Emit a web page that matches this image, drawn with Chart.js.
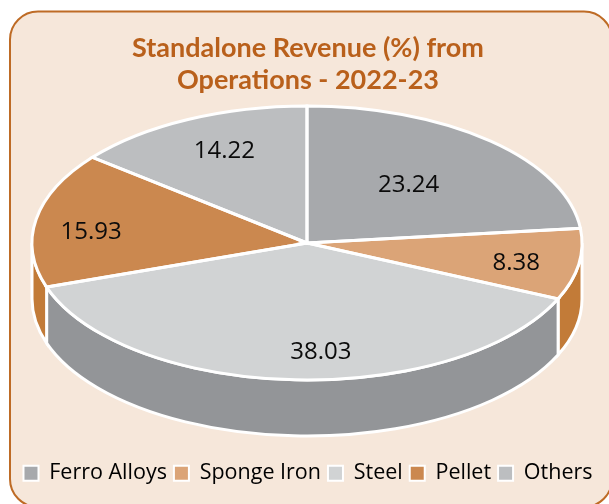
<!DOCTYPE html>
<html>
<head>
<meta charset="utf-8">
<title>Standalone Revenue</title>
<script src="https://cdn.jsdelivr.net/npm/chart.js@4"></script>
<style>
html, body { margin: 0; padding: 0; background: #fff; overflow: hidden; }
canvas { display: block; }
</style>
</head>
<body>
<canvas id="pie" width="609" height="504"></canvas>
<script>
var categories = ['Ferro Alloys', 'Sponge Iron', 'Steel', 'Pellet', 'Others'];
var shares = [23.24, 8.38, 38.03, 15.93, 14.22];
var topColors = ['#A7A9AC', '#DBA477', '#D1D3D4', '#CB884F', '#BCBEC0'];
var wallColors = ['#939598', '#C27B38', '#939598', '#C27B38', '#939598'];
var titleLines = ['Standalone Revenue (%) from', 'Operations - 2022-23'];
var labelReach = [0.57, 0.77, 0.79, 0.79, 0.72];
var labelNudgeX = [-3, 0, 24, -2, 3];
var labelNudgeY = [0, 4, 1, 8, -3];

// where the tilted pie sits on the page
var pieX = 307, pieY = 243, pieRx = 275, pieRy = 137, pieDepth = 56;
var fontName = '"Open Sans", sans-serif';

function wallPath(ctx, from, to) {
    ctx.beginPath();
    ctx.ellipse(pieX, pieY, pieRx, pieRy, 0, from, to);
    ctx.ellipse(pieX, pieY + pieDepth, pieRx, pieRy, 0, to, from, true);
    ctx.closePath();
}

var tiltedPie = {
    id: 'tiltedPie',
    beforeDraw: function (chart) {
        var ctx = chart.ctx;
        ctx.save();
        ctx.beginPath();
        ctx.roundRect(10, 11.5, 602, 495.5, 28);
        ctx.fillStyle = '#F6E7DA';
        ctx.fill();
        ctx.lineWidth = 2;
        ctx.strokeStyle = '#BE6B25';
        ctx.stroke();
        ctx.restore();
    },
    beforeDatasetsDraw: function (chart) {
        var ctx = chart.ctx;
        var arcs = chart.getDatasetMeta(0).data;

        // side walls: only the front half of each slice shows
        arcs.forEach(function (arc, i) {
            var a = arc.startAngle, b = arc.endAngle;
            [0, Math.PI * 2].forEach(function (shift) {
                var from = Math.max(a, shift), to = Math.min(b, shift + Math.PI);
                if (to <= from) return;
                wallPath(ctx, from, to);
                ctx.fillStyle = wallColors[i];
                ctx.fill();
                ctx.lineWidth = 3;
                ctx.strokeStyle = '#fff';
                ctx.stroke();
            });
        });

        var first = arcs[0];
        var k = first.outerRadius;
        ctx.save();
        ctx.translate(pieX, pieY);
        ctx.scale(pieRx / k, pieRy / k);
        ctx.translate(-first.x, -first.y);
    },
    afterDatasetsDraw: function (chart) {
        var ctx = chart.ctx;
        ctx.restore();

        chart.getDatasetMeta(0).data.forEach(function (arc, i) {
            var a = arc.startAngle, b = arc.endAngle;
            ctx.beginPath();
            ctx.moveTo(pieX, pieY);
            ctx.ellipse(pieX, pieY, pieRx, pieRy, 0, a, b);
            ctx.closePath();
            ctx.lineWidth = 3;
            ctx.strokeStyle = '#fff';
            ctx.stroke();

            var mid = (a + b) / 2;
            ctx.fillStyle = '#0b0b0b';
            ctx.font = '24px ' + fontName;
            ctx.textAlign = 'center';
            ctx.textBaseline = 'middle';
            ctx.fillText(shares[i].toFixed(2),
                pieX + Math.cos(mid) * pieRx * labelReach[i] + labelNudgeX[i],
                pieY + Math.sin(mid) * pieRy * labelReach[i] + labelNudgeY[i]);
        });
    }
};

new Chart(document.getElementById('pie'), {
    type: 'pie',
    data: {
        labels: categories,
        datasets: [{
            data: shares,
            backgroundColor: topColors,
            borderWidth: 0,
            clip: false
        }]
    },
    options: {
        responsive: false,
        animation: false,
        layout: { padding: { top: 32, bottom: 10, left: 7, right: 0 } },
        plugins: {
            tooltip: { enabled: false },
            title: {
                display: true,
                text: titleLines,
                color: '#B9601B',
                font: { family: 'Lato, sans-serif', size: 27, weight: 'bold', lineHeight: 1.2 },
                padding: { top: 0, bottom: 10 }
            },
            legend: {
                position: 'bottom',
                labels: {
                    color: '#0b0b0b',
                    font: { family: fontName, size: 21.5 },
                    boxWidth: 15,
                    boxHeight: 15,
                    padding: 7,
                    generateLabels: function (chart) {
                        return categories.map(function (name, i) {
                            return {
                                text: name,
                                fillStyle: topColors[i],
                                strokeStyle: '#fff',
                                lineWidth: 2,
                                index: i
                            };
                        });
                    }
                }
            }
        }
    },
    plugins: [tiltedPie]
});
</script>
</body>
</html>
